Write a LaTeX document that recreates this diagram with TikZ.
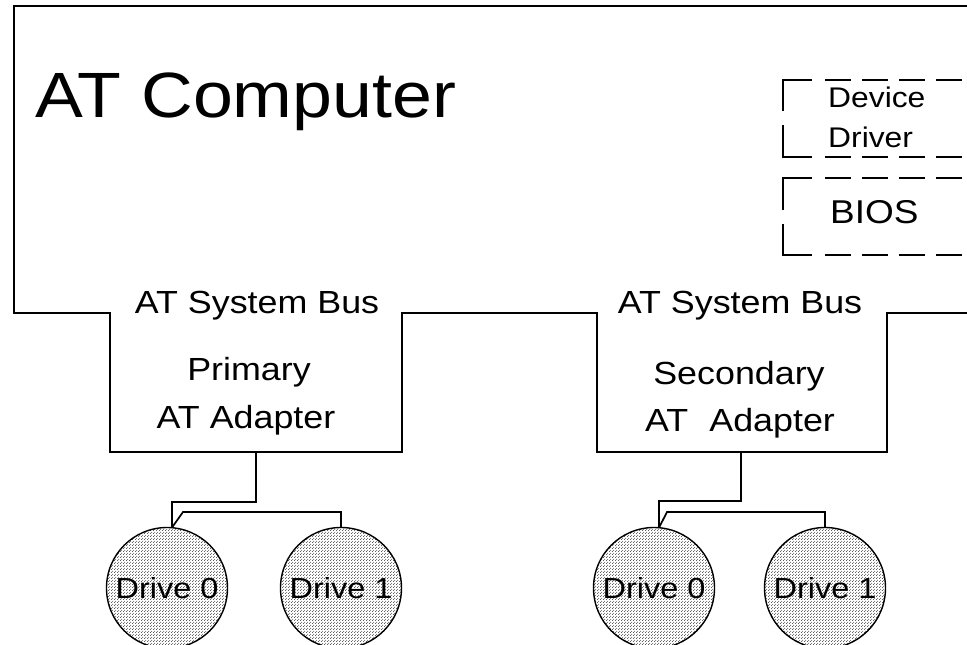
\documentclass[tikz,border=0pt]{standalone}
\usepackage{fontspec}
\setmainfont{Liberation Sans}[FakeStretch=1.12]
\usetikzlibrary{patterns}
% halftone stipple used inside the drive discs
\pgfdeclarepatternformonly{halftone}{\pgfpointorigin}{\pgfpoint{3pt}{3pt}}{\pgfpoint{3pt}{3pt}}{%
  \pgfpathcircle{\pgfpoint{0.75pt}{0.75pt}}{0.62pt}%
  \pgfpathcircle{\pgfpoint{2.25pt}{2.25pt}}{0.62pt}%
  \pgfusepath{fill}}
\tikzset{
  wire/.style={line width=1.4pt, line join=miter},
  cable/.style={line width=1.7pt, line join=miter},
  dashwire/.style={line width=1.3pt, dash pattern=on 26pt off 11pt},
  label/.style={inner sep=0pt, font=\fontsize{32}{38}\selectfont},
  title/.style={inner sep=0pt, font=\fontsize{64}{76}\selectfont},
  small/.style={inner sep=0pt, font=\fontsize{28.4}{34}\selectfont},
  drive/.style={circle, draw, line width=1.4pt, minimum size=121pt, inner sep=0pt,
    pattern=halftone, pattern color=black!85,
    font=\fontsize{29}{34}\selectfont},
}
\begin{document}
\begin{tikzpicture}[x=1pt,y=-1pt]
\clip (0,0) rectangle (967,645);
\fill[white] (0,0) rectangle (967,645);

% computer outline, system bus and the two adapter cards
\draw[wire] (967,6) -- (14,6) -- (14,313) -- (110,313) -- (110,452) -- (402,452)
  -- (402,313) -- (597,313) -- (597,452) -- (887,452) -- (887,313) -- (967,313);

\node[title, anchor=base west] (comp) at (35,117) {AT Computer};

% software layers (dashed)
\draw[wire] (783,111) -- (783,80) -- (812,80);
\draw[wire] (783,125) -- (783,157) -- (812,157);
\draw[dashwire] (825,80) -- (967,80);
\draw[dashwire] (825,157) -- (967,157);
\draw[wire] (783,210) -- (783,178) -- (812,178);
\draw[wire] (783,224) -- (783,255) -- (812,255);
\draw[dashwire] (825,178) -- (967,178);
\draw[dashwire] (825,255) -- (967,255);
\node[small, anchor=base west] (dev) at (828,107) {Device};
\node[small, anchor=base west] (drv) at (828,147) {Driver};
\node[label, font=\fontsize{33}{38}\selectfont, anchor=base west] (bios) at (830,223) {BIOS};

% bus labels and adapter names
\node[label, anchor=base] (bus1) at (257,313) {AT System Bus};
\node[label, anchor=base] (bus2) at (740,313) {AT System Bus};
\node[label, anchor=base] (pri1) at (249,380) {Primary};
\node[label, anchor=base] (pri2) at (246,428) {AT Adapter};
\node[label, anchor=base] (sec1) at (739,384) {Secondary};
\node[label, anchor=base] (sec2) at (740,431) {AT\hspace{0.35em} Adapter};

\coordinate (pa) at (256,452);
\coordinate (sa) at (741,452);

% drives
\node[drive] (p0) at (167,588) {Drive 0};
\node[drive] (p1) at (341,588) {Drive 1};
\node[drive] (s0) at (654,588) {Drive 0};
\node[drive] (s1) at (825,588) {Drive 1};

% drive cables
\draw[cable] (pa) -- ++(0,50) -| (p0.85);
\draw[cable] (p0.85) -- (183,512) -| (p1.north);
\draw[cable] (sa) -- ++(0,49) -| (s0.85);
\draw[cable] (s0.85) -- (667,512) -| (s1.north);
\end{tikzpicture}
\end{document}
